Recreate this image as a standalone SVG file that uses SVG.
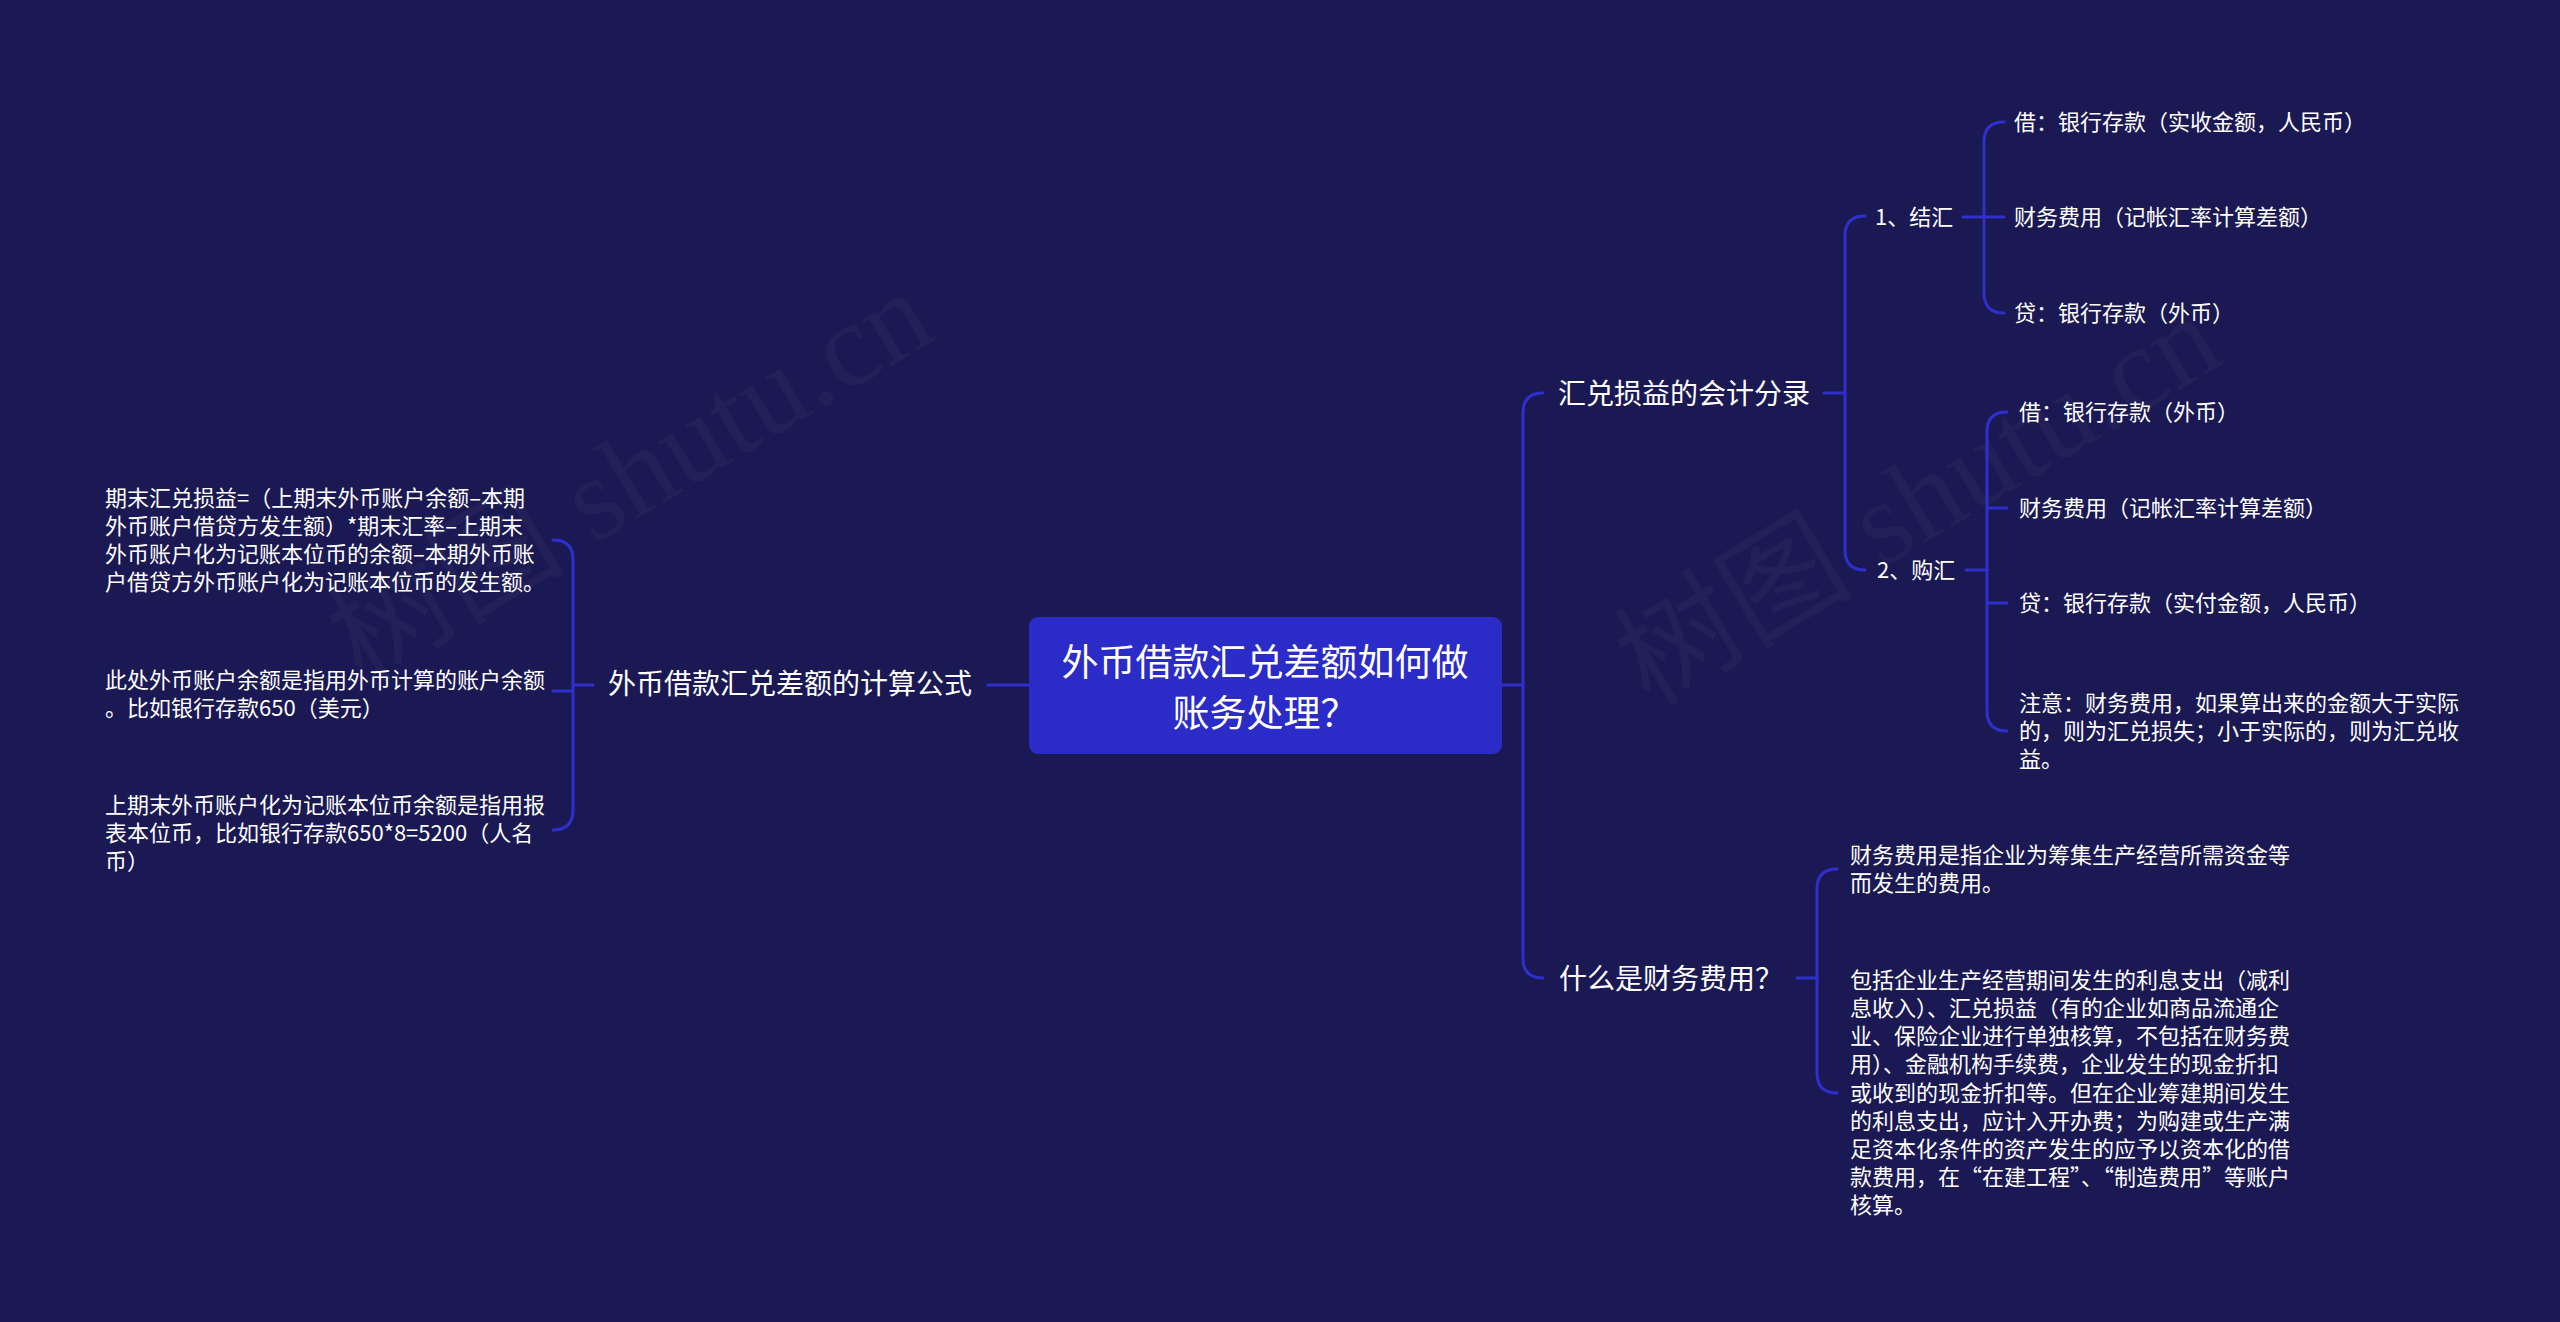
<svg xmlns="http://www.w3.org/2000/svg" width="2560" height="1322" viewBox="0 0 2560 1322">
<style>
text{font-family:"Noto Sans CJK SC","Noto Sans",sans-serif;fill:#ffffff}
.s{font-size:22px}
.m{font-size:28px}
.r{font-size:37px}
.wm{font-family:"Liberation Serif","Noto Sans CJK SC",serif;font-size:120px;fill:#ffffff;fill-opacity:0.03}
.c{fill:none;stroke:#2f30cc;stroke-width:3;stroke-linecap:round}
</style>
<rect x="0" y="0" width="2560" height="1322" fill="#1b1953"/>
<g id="watermarks">
<text class="wm" transform="translate(362,684) rotate(-31)">树图 shutu.cn</text>
<text class="wm" transform="translate(1650,708) rotate(-31)">树图 shutu.cn</text>
</g>
<g id="connectors">
<path class="c" d="M988,685 L1029,685"/>
<path class="c" d="M573,685 L593,685"/>
<path class="c" d="M553,540 Q573,540 573,560 L573,810 Q573,830 553,830 M553,691 L573,691"/>
<path class="c" d="M1502,685 L1523,685"/>
<path class="c" d="M1543,393 Q1523,393 1523,413 L1523,958 Q1523,978 1543,978"/>
<path class="c" d="M1824,393 L1845,393"/>
<path class="c" d="M1865,216 Q1845,216 1845,236 L1845,550 Q1845,570 1865,570"/>
<path class="c" d="M1963,217 L1984,217"/>
<path class="c" d="M2004,122 Q1984,122 1984,142 L1984,293 Q1984,313 2004,313 M1984,217 L2004,217"/>
<path class="c" d="M1966,570 L1987,570"/>
<path class="c" d="M2007,412 Q1987,412 1987,432 L1987,711 Q1987,731 2007,731 M1987,508 L2007,508 M1987,603 L2007,603"/>
<path class="c" d="M1797,978 L1817,978"/>
<path class="c" d="M1837,869 Q1817,869 1817,889 L1817,1073 Q1817,1093 1837,1093"/>
</g>
<g id="root">
<rect x="1029" y="617" width="473" height="137" rx="9" fill="#2b2bc8"/>
<text class="r" x="1265" y="676" text-anchor="middle">外币借款汇兑差额如何做</text>
<text class="r" x="1265" y="727" text-anchor="middle">账务处理？</text>
</g>
<g id="n-formula">
<text class="m" x="608" y="694">外币借款汇兑差额的计算公式</text>
</g>
<g id="n-formula-1">
<text class="s" x="105" y="506">期末汇兑损益=（上期末外币账户余额–本期</text>
<text class="s" x="105" y="534">外币账户借贷方发生额）*期末汇率–上期末</text>
<text class="s" x="105" y="562">外币账户化为记账本位币的余额–本期外币账</text>
<text class="s" x="105" y="590">户借贷方外币账户化为记账本位币的发生额。</text>
</g>
<g id="n-formula-2">
<text class="s" x="105" y="688">此处外币账户余额是指用外币计算的账户余额</text>
<text class="s" x="105" y="716">。比如银行存款650（美元）</text>
</g>
<g id="n-formula-3">
<text class="s" x="105" y="813">上期末外币账户化为记账本位币余额是指用报</text>
<text class="s" x="105" y="841">表本位币，比如银行存款650*8=5200（人名</text>
<text class="s" x="105" y="869">币）</text>
</g>
<g id="n-entries">
<text class="m" x="1558" y="404">汇兑损益的会计分录</text>
</g>
<g id="n-jiehui">
<text class="s" x="1875" y="225">1、结汇</text>
</g>
<g id="n-jiehui-1"><text class="s" x="2014" y="130">借：银行存款（实收金额，人民币）</text></g>
<g id="n-jiehui-2"><text class="s" x="2014" y="225">财务费用（记帐汇率计算差额）</text></g>
<g id="n-jiehui-3"><text class="s" x="2014" y="321">贷：银行存款（外币）</text></g>
<g id="n-gouhui">
<text class="s" x="1877" y="578">2、购汇</text>
</g>
<g id="n-gouhui-1"><text class="s" x="2019" y="420">借：银行存款（外币）</text></g>
<g id="n-gouhui-2"><text class="s" x="2019" y="516">财务费用（记帐汇率计算差额）</text></g>
<g id="n-gouhui-3"><text class="s" x="2019" y="611">贷：银行存款（实付金额，人民币）</text></g>
<g id="n-gouhui-4">
<text class="s" x="2019" y="711">注意：财务费用，如果算出来的金额大于实际</text>
<text class="s" x="2019" y="739">的，则为汇兑损失；小于实际的，则为汇兑收</text>
<text class="s" x="2019" y="767">益。</text>
</g>
<g id="n-what">
<text class="m" x="1559" y="989">什么是财务费用？</text>
</g>
<g id="n-what-1">
<text class="s" x="1850" y="863">财务费用是指企业为筹集生产经营所需资金等</text>
<text class="s" x="1850" y="891">而发生的费用。</text>
</g>
<g id="n-what-2">
<text class="s" x="1850" y="988">包括企业生产经营期间发生的利息支出（减利</text>
<text class="s" x="1850" y="1016">息收入）、汇兑损益（有的企业如商品流通企</text>
<text class="s" x="1850" y="1044">业、保险企业进行单独核算，不包括在财务费</text>
<text class="s" x="1850" y="1072">用）、金融机构手续费，企业发生的现金折扣</text>
<text class="s" x="1850" y="1101">或收到的现金折扣等。但在企业筹建期间发生</text>
<text class="s" x="1850" y="1129">的利息支出，应计入开办费；为购建或生产满</text>
<text class="s" x="1850" y="1157">足资本化条件的资产发生的应予以资本化的借</text>
<text class="s" x="1850" y="1185">款费用，在“在建工程”、“制造费用”等账户</text>
<text class="s" x="1850" y="1213">核算。</text>
</g>
</svg>
